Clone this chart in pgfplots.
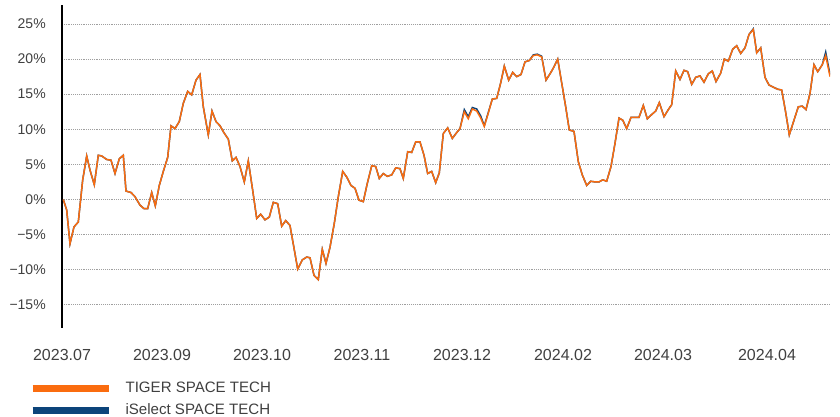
\documentclass[border=0pt]{standalone}
\usepackage{pgfplots}
\pgfplotsset{compat=1.18}
\usepackage{pgfplotstable}
\usepackage{fontspec}
\setmainfont{Liberation Sans}
\definecolor{tigerorange}{RGB}{250,108,15}
\definecolor{iselblue}{RGB}{12,68,122}
\definecolor{txtgray}{RGB}{64,64,64}

\pgfplotstableread{
x y
63.3 0
66.7 -1.5
70 -6.3
74 -3.9
78.3 -3.2
82.7 2.8
86.7 6.2
90 4.2
94.3 2.1
98.3 6.3
101.7 6.2
106.7 5.7
111 5.6
115 3.7
119.3 5.8
123.3 6.3
126 1.2
131 1.0
135 0.4
140 -0.8
144 -1.3
147.7 -1.3
151.7 1.0
155.3 -0.9
159.3 2.0
163.3 4.0
167.7 6.0
171 10.5
175 10.1
179.3 11.1
183.3 13.7
187.7 15.4
191.7 14.9
196 17.0
200 17.8
203.3 13.2
208.3 9.2
212 12.6
216 11.1
220 10.5
224 9.5
228.3 8.6
232.3 5.5
236 6.0
240 4.7
244.3 2.5
248.3 5.5
252.7 1.3
256.7 -2.7
260.7 -2.1
265 -2.9
269.3 -2.5
273.3 -0.4
277.7 -0.6
281.7 -3.8
285.7 -3.0
290 -3.7
297.7 -9.9
302.3 -8.6
306.7 -8.2
310 -8.3
314 -10.8
318.3 -11.4
322.3 -7.1
326 -9.1
330 -6.8
334.3 -3.4
338.3 0.4
342.7 4.0
346.7 3.2
351 2.0
355 1.6
359 -0.1
363.3 -0.3
367.3 2.3
371.7 4.8
375.7 4.7
379.3 3.0
383.3 3.7
387.3 3.3
391.7 3.5
395.7 4.5
400 4.4
403.3 3.0
407.7 6.8
411.7 6.7
415.7 8.2
420 8.2
424 6.3
427.7 3.7
431.7 4.0
435.7 2.4
439.3 3.8
443.3 9.4
447.7 10.2
452.3 8.7
456 9.4
460 10.1
464.3 12.5
468.3 11.5
472.3 12.9
476.7 12.6
480.7 11.6
484.3 10.4
488.3 12.3
492.3 14.3
496.7 14.4
500.7 16.6
504.3 19.0
508.7 17.0
512.7 18.1
516.7 17.5
521 17.8
525 19.6
529.3 19.8
533.3 20.5
537.3 20.6
541.7 20.3
546 17.0
550 17.9
553.3 18.7
557.7 20.0
561.7 16.6
565.7 13.2
569.3 9.9
574 9.7
578.3 5.4
582.3 3.5
586.7 2.0
590.7 2.6
595 2.5
599 2.5
602.7 2.8
606.7 2.6
611 4.7
615 8.0
619 11.6
622.7 11.3
626.7 10.1
631 11.7
635 11.7
639 11.7
643.3 13.4
647.3 11.5
651.7 12.1
655.7 12.6
659.3 13.8
664 11.8
668.3 12.8
671.7 13.5
675.7 18.3
680 17.1
684 18.4
687.7 18.2
691.7 16.4
695.7 17.4
700 17.6
704 16.7
708.3 17.9
712.3 18.3
716 16.8
720.7 18.0
724.3 20.0
728.3 19.7
732.7 21.4
736.7 21.9
740.7 20.8
745 21.6
749 23.5
753.3 24.2
756.7 20.9
760.7 21.6
765 17.4
769 16.3
773.3 16.0
777.7 15.7
781.7 15.6
785.7 12.4
789.3 9.2
794 11.3
798.3 13.2
802.3 13.3
806 12.8
810 15.1
814 19.2
817.7 18.2
822.3 19.2
825.7 20.5
830 17.5
}\tiger

\pgfplotstableread{
x y
63.3 0
66.7 -1.5
70 -6.3
74 -3.9
78.3 -3.2
82.7 2.8
86.7 6.2
90 4.2
94.3 2.1
98.3 6.3
101.7 6.2
106.7 5.7
111 5.6
115 3.7
119.3 5.8
123.3 6.3
126 1.2
131 1.0
135 0.4
140 -0.8
144 -1.3
147.7 -1.3
151.7 1.0
155.3 -0.9
159.3 2.0
163.3 4.0
167.7 6.0
171 10.5
175 10.1
179.3 11.1
183.3 13.7
187.7 15.4
191.7 14.9
196 17.0
200 17.8
203.3 13.2
208.3 9.2
212 12.6
216 11.1
220 10.5
224 9.5
228.3 8.6
232.3 5.5
236 6.0
240 4.7
244.3 2.5
248.3 5.5
252.7 1.3
256.7 -2.7
260.7 -2.1
265 -2.9
269.3 -2.5
273.3 -0.4
277.7 -0.6
281.7 -3.8
285.7 -3.0
290 -3.7
297.7 -9.9
302.3 -8.6
306.7 -8.2
310 -8.3
314 -10.8
318.3 -11.4
322.3 -7.1
326 -9.1
330 -6.8
334.3 -3.4
338.3 0.4
342.7 4.0
346.7 3.2
351 2.0
355 1.6
359 -0.1
363.3 -0.3
367.3 2.3
371.7 4.8
375.7 4.7
379.3 3.0
383.3 3.7
387.3 3.3
391.7 3.5
395.7 4.5
400 4.4
403.3 3.0
407.7 6.8
411.7 6.7
415.7 8.2
420 8.2
424 6.3
427.7 3.7
431.7 4.0
435.7 2.4
439.3 3.8
443.3 9.4
447.7 10.2
452.3 8.7
456 9.4
460 10.1
464.3 12.8
468.3 11.8
472.3 13.1
476.7 12.9
480.7 11.9
484.3 10.5
488.3 12.4
492.3 14.3
496.7 14.4
500.7 16.6
504.3 19.0
508.7 17.0
512.7 18.1
516.7 17.5
521 17.8
525 19.6
529.3 19.8
533.3 20.6
537.3 20.7
541.7 20.4
546 17.0
550 17.9
553.3 18.7
557.7 20.0
561.7 16.6
565.7 13.2
569.3 9.9
574 9.7
578.3 5.4
582.3 3.5
586.7 2.0
590.7 2.6
595 2.5
599 2.5
602.7 2.8
606.7 2.6
611 4.7
615 8.0
619 11.6
622.7 11.3
626.7 10.1
631 11.7
635 11.7
639 11.7
643.3 13.4
647.3 11.5
651.7 12.1
655.7 12.6
659.3 13.8
664 11.8
668.3 12.8
671.7 13.5
675.7 18.3
680 17.1
684 18.4
687.7 18.2
691.7 16.4
695.7 17.4
700 17.6
704 16.7
708.3 17.9
712.3 18.3
716 16.8
720.7 18.0
724.3 20.0
728.3 19.7
732.7 21.4
736.7 21.9
740.7 20.8
745 21.6
749 23.5
753.3 24.3
756.7 20.9
760.7 21.6
765 17.4
769 16.3
773.3 16.0
777.7 15.7
781.7 15.6
785.7 12.4
789.3 9.2
794 11.3
798.3 13.2
802.3 13.3
806 12.8
810 15.1
814 19.2
817.7 18.2
822.3 19.2
825.7 21.0
830 17.8
}\iselect

\begin{document}
\begin{tikzpicture}
\begin{axis}[
  name=ax,
  scale only axis,
  width=576pt, height=242.25pt,
  xmin=62, xmax=830, ymin=-18.3, ymax=27.7,
  axis lines*=left,
  x axis line style={draw=none},
  y axis line style={black, line width=1.9pt},
  tick style={draw=none},
  ytick={-15,-10,-5,0,5,10,15,20,25},
  yticklabels={−15\%,−10\%,−5\%,0\%,5\%,10\%,15\%,20\%,25\%},
  xtick={62,162,262,362,462,563,663,767},
  xticklabels={2023.07,2023.09,2023.10,2023.11,2023.12,2024.02,2024.03,2024.04},
  yticklabel style={anchor=east, inner sep=0pt, xshift=-12pt, font=\fontsize{10.5}{12}\selectfont, text=txtgray},
  xticklabel style={anchor=north, inner sep=0pt, yshift=-15.5pt, font=\fontsize{12}{14}\selectfont, text=txtgray},
  ymajorgrids,
  grid style={densely dotted, gray!75, line width=0.6pt},
  legend style={at={(0,0)}, anchor=north west, xshift=-25pt, yshift=-39.5pt,
    draw=none, fill=none, inner sep=0pt, row sep=4.8pt,
    font=\fontsize{11.3}{13}\selectfont, text=txtgray,
    nodes={inner sep=1pt},
    /tikz/every odd column/.append style={column sep=9pt}},
  legend cell align=left,
  legend image code/.code={\draw[#1, line width=5.5pt] (0pt,0pt) -- (57pt,0pt);},
  reverse legend,
]
\addplot[iselblue, line width=1.1pt] table[x=x,y=y] {\iselect};
\addlegendentry{iSelect SPACE TECH}
\addplot[tigerorange, line width=1.1pt] table[x=x,y=y] {\tiger};
\addlegendentry{TIGER SPACE TECH}
\end{axis}
\pgfresetboundingbox
\useasboundingbox ([shift={(-46.5pt,-66.75pt)}]ax.south west) rectangle ([shift={(7.5pt,3.75pt)}]ax.north east);
\end{tikzpicture}
\end{document}
